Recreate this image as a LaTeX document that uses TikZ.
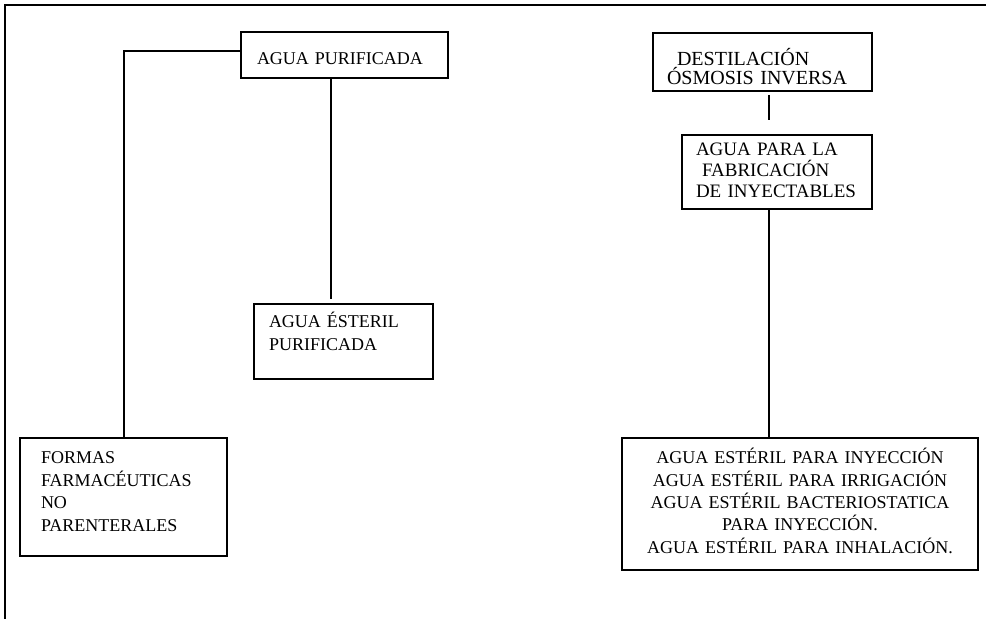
\documentclass[tikz,border=0pt]{standalone}
\usepackage{fontspec}
\setmainfont{Liberation Serif}
\begin{document}
\begin{tikzpicture}[x=0.5pt, y=-0.5pt,
    box/.style={draw, line width=1pt, anchor=north west, inner ysep=0pt, align=left,
      font=\fontsize{9}{11.25}\selectfont},
    link/.style={line width=1pt},
    frame/.style={line width=1.3pt}]
      \useasboundingbox (0, 0) rectangle (986, 619);

      \draw[frame] (5, 619) -- (5, 5) -- (986, 5);

      \node[box, inner xsep=8pt, text width=87.5pt, text height=16.25pt, text depth=6.75pt]
        (puri) at (240, 31) {AGUA PURIFICADA};
      \node[box, inner xsep=7.5pt, text width=74.5pt, text height=12pt, text depth=25.5pt]
        (ester) at (253, 303) {AGUA ÉSTERIL\\PURIFICADA};
      \node[box, inner xsep=10.5pt, text width=82.5pt, text height=13pt, text depth=46pt]
        (formas) at (19, 437) {FORMAS\\FARMACÉUTICAS\\NO\\PARENTERALES};

      \node[box, inner xsep=7pt, text width=95.5pt, text height=16.5pt, text depth=12.5pt,
        font=\fontsize{10}{9.2}\selectfont]
        (dest) at (652, 32) {\hspace*{5pt}DESTILACIÓN\\ÓSMOSIS INVERSA};
      \node[box, inner xsep=7pt, text width=81pt, text height=10.5pt, text depth=26.5pt,
        font=\fontsize{9.5}{10.5}\selectfont]
        (fab) at (681, 134) {AGUA PARA LA\\\hspace*{3pt}FABRICACIÓN\\DE~INYECTABLES};
      \node[box, align=center, inner xsep=4pt, text width=170pt, text height=13pt, text depth=53pt,
        font=\fontsize{9}{11.15}\selectfont]
        (usos) at (621, 437) {AGUA ESTÉRIL PARA INYECCIÓN\\AGUA ESTÉRIL PARA IRRIGACIÓN\\
          AGUA ESTÉRIL BACTERIOSTATICA\\PARA INYECCIÓN.\\AGUA ESTÉRIL PARA INHALACIÓN.};

      \draw[link] ([yshift=2pt]puri.west) -| (formas.north);
      \draw[link, shorten >=2pt] ([xshift=-7pt]puri.south) -- ([xshift=-7pt]puri.south |- ester.north);

      \draw[link, shorten <=1.5pt, shorten >=7pt] ([xshift=3pt]dest.south) -- ([xshift=3pt]dest.south |- fab.north);
      \draw[link] ([xshift=-4pt]fab.south) -- ([xshift=-4pt]fab.south |- usos.north);
    \end{tikzpicture}
\end{document}
